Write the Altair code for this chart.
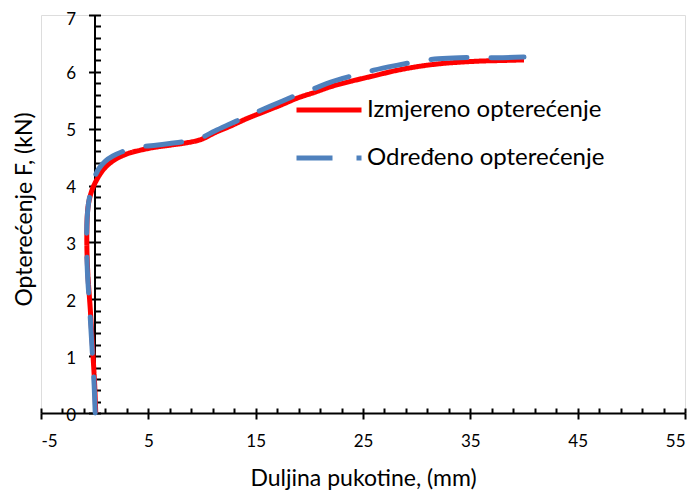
import altair as alt
import pandas as pd

# Measured load (Izmjereno opterećenje)
x_red = [0.1, 0.0, -0.15, -0.4, -0.65, -0.73, -0.6, -0.25, 0.05, 0.5, 1.0, 1.6, 2.3, 3.2, 4.2, 5.5, 7.0,
         8.5, 9.9, 11.2, 12.7, 14.2, 15.8, 17.4, 18.9, 20.5, 22.0, 24.0, 26.0, 28.0, 30.0, 32.0, 34.0,
         36.0, 38.0, 40.0]
y_red = [0.0, 0.5, 1.0, 1.8, 2.5, 3.15, 3.65, 3.92, 4.05, 4.2, 4.32, 4.42, 4.5, 4.57, 4.62, 4.67, 4.71,
         4.75, 4.81, 4.93, 5.05, 5.18, 5.3, 5.42, 5.54, 5.64, 5.74, 5.84, 5.93, 6.02, 6.09, 6.14, 6.17,
         6.19, 6.2, 6.21]

# Determined load (Određeno opterećenje)
x_blue = [0.05, -0.05, -0.2, -0.45, -0.68, -0.75, -0.6, -0.3, 0.0, 0.4, 1.0, 1.7, 2.5, 3.5, 4.6, 5.7, 7.0,
          8.5, 9.9, 11.2, 12.7, 14.2, 15.8, 17.4, 18.9, 20.5, 22.0, 24.0, 26.0, 28.0, 30.0, 32.0, 34.0,
          36.0, 38.0, 40.0]
y_blue = [0.0, 0.5, 1.0, 1.8, 2.5, 3.15, 3.65, 3.95, 4.15, 4.3, 4.43, 4.52, 4.59, 4.65, 4.69, 4.71, 4.74,
          4.78, 4.84, 4.96, 5.09, 5.22, 5.35, 5.48, 5.6, 5.71, 5.82, 5.93, 6.03, 6.11, 6.18, 6.23, 6.25,
          6.25, 6.25, 6.26]

series = ["Izmjereno opterećenje", "Određeno opterećenje"]
colors = ["#FF0000", "#4F81BD"]
dashes = [[1, 0], [36, 24]]

x_major = [-5, 5, 15, 25, 35, 45, 55]
x_minor = list(range(-5, 56, 2))
y_major = [0, 1, 2, 3, 4, 5, 6, 7]
y_minor = [round(i * 0.2, 1) for i in range(36)]

rows = []
for i, (a, b) in enumerate(zip(x_red, y_red)):
    rows.append({"x": a, "y": b, "s": series[0], "i": i})
for i, (a, b) in enumerate(zip(x_blue, y_blue)):
    rows.append({"x": a, "y": b, "s": series[1], "i": i})
df = pd.DataFrame(rows)

FONT = "Lato"
TICK_FS = 17
BIG_FS = 23

xscale = alt.Scale(domain=[-5, 55], nice=False, zero=False)
yscale = alt.Scale(domain=[0, 7], nice=False, zero=False)


def legend():
    return alt.Legend(
        title=None, orient="none", legendX=253, legendY=60, padding=0,
        symbolType="stroke", symbolSize=4225, symbolStrokeWidth=5,
        labelFont=FONT, labelFontSize=24, labelColor="black", labelOffset=3,
        rowPadding=1, labelLimit=500,
    )


color = alt.Color("s:N", scale=alt.Scale(domain=series, range=colors), legend=legend())
dash = alt.StrokeDash("s:N", scale=alt.Scale(domain=series, range=dashes), legend=legend())

red = alt.Chart(df).transform_filter(alt.datum.s == series[0]).mark_line(
    strokeWidth=5, interpolate="catmull-rom"
).encode(
    x=alt.X("x:Q", scale=xscale, axis=alt.Axis(
        orient="bottom", values=x_major, tickSize=6, tickWidth=2, tickColor="black",
        domainColor="black", domainWidth=2, grid=False,
        labelFont=FONT, labelFontSize=TICK_FS, labelColor="black", labelPadding=14,
        labelExpr="'' + datum.value",
        title="Duljina pukotine, (mm)", titleFont=FONT, titleFontSize=BIG_FS, titleFontWeight="normal",
        titleColor="black", titleY=65, titleBaseline="middle",
    )),
    y=alt.Y("y:Q", scale=yscale, axis=alt.Axis(
        orient="left", offset=-53.5, values=y_major, tickSize=6, tickWidth=2, tickColor="black",
        domainColor="black", domainWidth=2, grid=False,
        labelFont=FONT, labelFontSize=TICK_FS, labelColor="black", labelPadding=13,
        labelOffset={"condition": {"test": "datum.value == 7", "value": 4}, "value": 2},
        title="Opterećenje F, (kN)", titleFont=FONT, titleFontSize=BIG_FS, titleFontWeight="normal",
        titleColor="black", titleX=-70, titleY=194, titleBaseline="middle", titleAngle=270,
    )),
    color=color,
    strokeDash=dash,
    order="i:Q",
)

blue = alt.Chart(df).transform_filter(alt.datum.s == series[1]).mark_line(
    strokeWidth=5, interpolate="catmull-rom", strokeCap="round"
).encode(
    x=alt.X("x:Q", scale=xscale, axis=alt.Axis(
        orient="top", offset=-398, values=x_minor, tickSize=5, tickWidth=2, tickColor="black",
        domain=False, labels=False, grid=False, title=None,
    )),
    y=alt.Y("y:Q", scale=yscale, axis=alt.Axis(
        orient="right", offset=-590.5, values=y_minor, tickSize=6, tickWidth=2, tickColor="black",
        domain=False, labels=False, grid=False, title=None,
    )),
    color=color,
    strokeDash=dash,
    order="i:Q",
)

chart = alt.layer(red, blue).resolve_axis(x="independent", y="independent").properties(
    width=644, height=398,
    autosize=alt.AutoSizeParams(type="none"),
    padding={"left": 33, "top": 7, "right": 5, "bottom": 77},
).configure_view(stroke="#808080", strokeWidth=1).configure(background="white")

chart.save("out.html", embed_options={"renderer": "svg", "actions": False})
